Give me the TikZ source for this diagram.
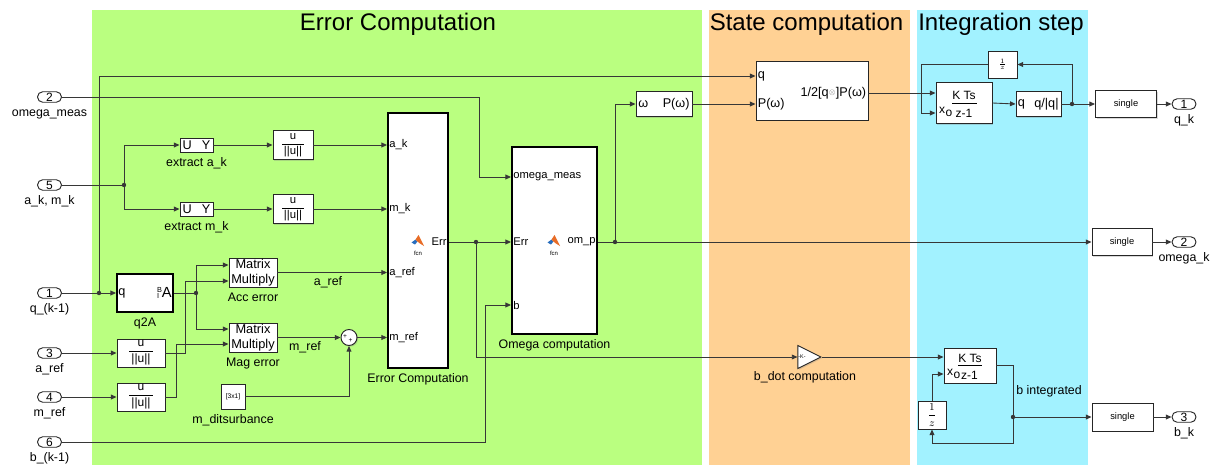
\documentclass[tikz,border=0pt]{standalone}
\usepackage{fontspec}
\setmainfont{Liberation Sans}
\usetikzlibrary{arrows.meta,shadows,shapes.geometric,calc}

\definecolor{zoneerr}{RGB}{186,255,128}
\definecolor{zonestate}{RGB}{255,209,148}
\definecolor{zoneint}{RGB}{162,242,255}
\definecolor{sig}{RGB}{55,55,55}
\definecolor{logoblue}{RGB}{40,110,190}
\definecolor{logoorange}{RGB}{232,108,38}

\newcommand{\unitvec}{$\displaystyle\frac{\mbox{u}}{\mbox{\,||u||\,}}$}

\tikzset{
  sigline/.style={draw=sig, line width=0.65pt},
  sigarrow/.style={sigline, -{Triangle[length=4.2pt,width=3.6pt]}},
  blk/.style 2 args={draw=black!85, fill=white, line width=0.7pt,
     minimum width=#1*0.75pt, minimum height=#2*0.75pt, inner sep=0pt,
     drop shadow={shadow xshift=0.9pt, shadow yshift=-0.9pt, opacity=0.3}},
  subsys/.style 2 args={blk={#1}{#2}, line width=1.4pt, draw=black},
  port/.style={draw=black!85, fill=white, line width=0.7pt, rounded corners=3.9pt,
     minimum width=24*0.75pt, minimum height=10.5*0.75pt, inner sep=0pt,
     font=\fontsize{9}{9}\selectfont},
  lbl/.style={font=\fontsize{9.3}{11}\selectfont, inner sep=0pt, text height=7pt, text depth=2pt},
  under/.style={label={[lbl, label distance=3pt]below:{#1}}},
  pin/.style={font=\fontsize{8.4}{10}\selectfont, inner sep=0pt},
  junc/.style={circle, fill=sig, inner sep=0pt, minimum size=3.3pt},
  zonetitle/.style={font=\fontsize{18}{20}\selectfont, inner sep=0pt},
  fcnlogo/.pic={
    \fill[logoblue] (-6.5,1.5) -- (-2.5,-1.5) -- (-0.5,0.5) -- (-3,3.5) -- cycle;
    \fill[logoorange] (-2.5,-1.5) -- (0.5,-6) -- (6,5) -- (2,2.5) -- (-0.5,0.5) -- cycle;
    \node[font=\fontsize{4.5}{5}\selectfont, inner sep=0pt] (-fcn) at (0,12) {fcn};
  },
}

\begin{document}
\begin{tikzpicture}[x=0.75pt,y=-0.75pt]
\useasboundingbox (0,0) rectangle (1217,465);

% ---------- coloured areas ----------
\fill[zoneerr]   (92,10)  rectangle (702,465);
\fill[zonestate] (709,10) rectangle (910,465);
\fill[zoneint]   (917,10) rectangle (1088,465);
\node[zonetitle] (t-err)   at (398,24.5)  {Error Computation};
\node[zonetitle] (t-state) at (806.5,24.5) {State computation};
\node[zonetitle] (t-int)   at (1001,24.5) {Integration step};

% ---------- inports ----------
\node[port, under={omega\_meas}] (in2) at (49.5,97)  {2};
\node[port, under={a\_k, m\_k}]  (in5) at (49.5,185) {5};
\node[port, under={q\_(k-1)}]    (in1) at (49.5,293) {1};
\node[port, under={a\_ref}]      (in3) at (49.5,353) {3};
\node[port, under={m\_ref}]      (in4) at (49.5,397) {4};
\node[port, under={b\_(k-1)}]    (in6) at (49.5,442) {6};

% ---------- outports ----------
\node[port, under={q\_k}]     (out1) at (1184,104) {1};
\node[port, under={omega\_k}] (out2) at (1184,242) {2};
\node[port, under={b\_k}]     (out3) at (1184,417) {3};

% ---------- measurement extraction and normalisation ----------
\node[blk={33}{14}, under={extract a\_k}, font=\fontsize{9.5}{10}\selectfont] (exa) at (196.5,145) {U\hspace{7.5pt}Y};
\node[blk={33}{14}, under={extract m\_k}, font=\fontsize{9.5}{10}\selectfont] (exm) at (196.5,209) {U\hspace{7.5pt}Y};
\node[blk={40}{29}, font=\fontsize{8.5}{9}\selectfont] (nka) at (293,145) {\unitvec};
\node[blk={40}{29}, font=\fontsize{8.5}{9}\selectfont] (nkm) at (293,209) {\unitvec};
\node[blk={48}{28}, font=\fontsize{9}{10}\selectfont] (nra) at (141,353) {\unitvec};
\node[blk={48}{28}, font=\fontsize{9}{10}\selectfont] (nrm) at (141,397) {\unitvec};

% ---------- quaternion to DCM ----------
\node[subsys={56}{38}, under={q2A}] (q2a) at (145,293) {};
\node[pin, anchor=west, font=\fontsize{9.5}{10}\selectfont] (q2a-in) at ([xshift=1.5pt]q2a.west) {q};
\node[anchor=east, inner sep=0pt] (q2a-out) at ([xshift=-1.5pt]q2a.east)
  {{\fontsize{5.5}{6}\selectfont\rlap{\raisebox{4.2pt}{B}}\raisebox{-1pt}{I}}\hspace{2pt}{\fontsize{11}{12}\selectfont A}};

% ---------- reference vectors ----------
\node[blk={48}{29}, under={Acc error}, font=\fontsize{9.6}{11}\selectfont, align=center] (acc) at (253,272.5) {Matrix\\Multiply};
\node[blk={48}{29}, under={Mag error}, font=\fontsize{9.6}{11}\selectfont, align=center] (mag) at (253,337.5) {Matrix\\Multiply};
\node[circle, draw=black!85, fill=white, line width=0.7pt, minimum size=16*0.75pt, inner sep=0pt,
      drop shadow={shadow xshift=0.9pt, shadow yshift=-0.9pt, opacity=0.3}] (sum) at (349,337.5) {};
\node[font=\fontsize{5}{5}\selectfont, inner sep=0pt] (sum-p1) at (345,336.5) {+};
\node[font=\fontsize{5}{5}\selectfont, inner sep=0pt] (sum-p2) at (350.5,340.5) {+};
\node[blk={24}{25}, under={m\_ditsurbance}, font=\fontsize{5}{5}\selectfont] (cst) at (233,396.5) {[3x1]};

% ---------- MATLAB function blocks ----------
\node[subsys={60}{255}, under={Error Computation}] (ec) at (418,240.5) {};
\coordinate (ec-ak)   at (ec.west |- 0,145);
\coordinate (ec-mk)   at (ec.west |- 0,209);
\coordinate (ec-aref) at (ec.west |- 0,272.5);
\coordinate (ec-mref) at (ec.west |- 0,337.5);
\coordinate (ec-err)  at (ec.east |- 0,242);
\node[pin, anchor=west] (ec-t1) at ([xshift=1.5pt]ec-ak)   {a\_k};
\node[pin, anchor=west] (ec-t2) at ([xshift=1.5pt]ec-mk)   {m\_k};
\node[pin, anchor=west] (ec-t3) at ([xshift=1.5pt]ec-aref) {a\_ref};
\node[pin, anchor=west] (ec-t4) at ([xshift=1.5pt]ec-mref) {m\_ref};
\node[pin, anchor=east] (ec-t5) at ([xshift=-1.5pt]ec-err) {Err};
\pic (ec-logo) at (418,241) {fcnlogo};

\node[subsys={85}{187}, under={Omega computation}] (om) at (554.5,240.5) {};
\coordinate (om-meas) at (om.west |- 0,177);
\coordinate (om-err)  at (om.west |- 0,242);
\coordinate (om-b)    at (om.west |- 0,305);
\coordinate (om-out)  at (om.east |- 0,242);
\node[pin, anchor=west] (om-t1) at ([xshift=1.5pt]om-meas) {omega\_meas};
\node[pin, anchor=west] (om-t2) at ([xshift=1.5pt]om-err)  {Err};
\node[pin, anchor=west] (om-t3) at ([xshift=1.5pt]om-b)    {b};
\node[pin, anchor=east] (om-t4) at ([xshift=-1.5pt]om-out) {om\_p};
\pic (om-logo) at (554,241) {fcnlogo};

% ---------- state computation ----------
\node[blk={56}{25}] (pw) at (664,104) {};
\node[pin, anchor=west, font=\fontsize{9.5}{10}\selectfont] (pw-in)  at ([xshift=2pt]pw.west)  {ω};
\node[pin, anchor=east, font=\fontsize{9.5}{10}\selectfont] (pw-out) at ([xshift=-2pt]pw.east) {P(ω)};

\node[blk={112}{59}] (qp) at (812,90.5) {};
\coordinate (qp-q)   at (qp.west |- 0,76);
\coordinate (qp-p)   at (qp.west |- 0,104);
\coordinate (qp-out) at (qp.east |- 0,93);
\node[pin, anchor=west, font=\fontsize{9.5}{10}\selectfont] (qp-t1) at ([xshift=1.5pt]qp-q) {q};
\node[pin, anchor=west, font=\fontsize{9.5}{10}\selectfont] (qp-t2) at ([xshift=1.5pt]qp-p) {P(ω)};
\node[pin, anchor=east, font=\fontsize{9.5}{10}\selectfont] (qp-t3) at ([xshift=-1.5pt]qp-out)
  {1/2[q{\color{gray}\raisebox{1.5pt}{\fontsize{5}{5}\selectfont$\otimes$}}]P(ω)};

\node[isosceles triangle, isosceles triangle stretches, shape border rotate=0, draw=black!85, fill=white,
      line width=0.7pt, minimum width=23*0.75pt, minimum height=23*0.75pt, inner sep=0pt,
      drop shadow={shadow xshift=0.9pt, shadow yshift=-0.9pt, opacity=0.3},
      label={[lbl, label distance=4pt]below:b\_dot computation}] (gain) at (805,357) {};
\node[font=\fontsize{4}{4}\selectfont, inner sep=0pt] (gain-k) at (802,357) {-K-};

% ---------- integration step ----------
\node[blk={56}{41}] (intq) at (964,103) {};
\coordinate (intq-1) at (intq.west |- 0,93);
\coordinate (intq-2) at (intq.west |- 0,113);
\node[inner sep=0pt, font=\fontsize{9}{10}\selectfont] (intq-num) at (964,95.5) {K Ts};
\draw[line width=0.6pt] (952,103) -- (977,103);
\node[inner sep=0pt, font=\fontsize{9}{10}\selectfont] (intq-den) at (964,113.5) {z-1};
\node[inner sep=0pt, font=\fontsize{9}{10}\selectfont] (intq-x) at (942,110) {x};
\node[inner sep=0pt, font=\fontsize{9}{10}\selectfont] (intq-o) at (949,113) {o};

\node[blk={45}{25}] (nq) at (1038.5,104) {};
\node[pin, anchor=west, font=\fontsize{9.5}{10}\selectfont] (nq-in)  at ([xshift=1.5pt]nq.west)  {q};
\node[pin, anchor=east, font=\fontsize{9.5}{10}\selectfont] (nq-out) at ([xshift=-2pt]nq.east) {q/|q|};

\node[blk={29}{27}, font=\fontsize{4.5}{5}\selectfont] (dq) at (1002.5,64.5) {$\frac{1}{z}$};

\node[blk={52}{35}] (intb) at (970,365.5) {};
\coordinate (intb-1) at (intb.west |- 0,357);
\coordinate (intb-2) at (intb.west |- 0,374);
\node[inner sep=0pt, font=\fontsize{9}{10}\selectfont] (intb-num) at (970,358) {K Ts};
\draw[line width=0.6pt] (958,365) -- (982,365);
\node[inner sep=0pt, font=\fontsize{9}{10}\selectfont] (intb-den) at (969.5,375.5) {z-1};
\node[inner sep=0pt, font=\fontsize{9}{10}\selectfont] (intb-x) at (950,372) {x};
\node[inner sep=0pt, font=\fontsize{9}{10}\selectfont] (intb-o) at (957,375) {o};

\node[blk={28}{28}, font=\fontsize{7.8}{9}\selectfont] (db) at (932,415) {$\displaystyle\frac{1}{z}$};

\node[blk={61}{27}, font=\fontsize{7}{8}\selectfont] (sq) at (1126,104)   {single};
\node[blk={60}{27}, font=\fontsize{7}{8}\selectfont] (so) at (1122,242)   {single};
\node[blk={61}{28}, font=\fontsize{7}{8}\selectfont] (sb) at (1122.5,417) {single};

% ---------- junctions ----------
\node[junc] (j5) at (124,185) {};
\node[junc] (j1) at (99,293) {};
\node[junc] (j2) at (196,293) {};
\node[junc] (je) at (476,242) {};
\node[junc] (jo) at (615,242) {};
\node[junc] (jq) at (1072,104) {};
\node[junc] (jb) at (1013,417) {};

% ---------- signal lines ----------
\draw[sigarrow] (in2.east) -- (479,97) |- (om-meas);
\draw[sigline]  (in5.east) -- (j5);
\draw[sigarrow] (j5) |- (exa.west);
\draw[sigarrow] (j5) |- (exm.west);
\draw[sigarrow] (exa.east) -- (nka.west);
\draw[sigarrow] (exm.east) -- (nkm.west);
\draw[sigarrow] (nka.east) -- (ec-ak);
\draw[sigarrow] (nkm.east) -- (ec-mk);

\draw[sigline]  (in1.east) -- (j1);
\draw[sigarrow] (j1) -- (q2a.west);
\draw[sigarrow] (j1) |- (qp-q);
\draw[sigline]  (q2a.east) -- (j2);
\draw[sigarrow] (j2) |- (acc.west |- 0,265);
\draw[sigarrow] (j2) |- (mag.west |- 0,329);
\draw[sigarrow] (in3.east) -- (nra.west);
\draw[sigarrow] (in4.east) -- (nrm.west);
\draw[sigarrow] (nra.east) -- (185,353) |- (acc.west |- 0,281);
\draw[sigarrow] (nrm.east) -- (176,397) |- (mag.west |- 0,344);

\draw[sigarrow] (acc.east) -- (ec-aref);
\draw[sigarrow] (mag.east) -- (sum.west);
\draw[sigarrow] (cst.east) -| (sum.south);
\draw[sigarrow] (sum.east) -- (ec-mref);
\node[lbl] (lab-aref) at (328,282) {a\_ref};
\node[lbl] (lab-mref) at (305,347) {m\_ref};

\draw[sigline]  (ec-err) -- (je);
\draw[sigarrow] (je) -- (om-err);
\draw[sigarrow] (je) |- (gain.west);
\draw[sigarrow] (in6.east) -- (485,442) |- (om-b);

\draw[sigline]  (om-out) -- (jo);
\draw[sigarrow] (jo) -- (so.west);
\draw[sigarrow] (jo) |- (pw.west);
\draw[sigarrow] (pw.east) -- (qp-p);
\draw[sigarrow] (qp-out) -- (intq-1);

\draw[sigarrow] (intq.east) -- (nq.west);
\draw[sigline]  (nq.east) -- (jq);
\draw[sigarrow] (jq) -- (sq.west);
\draw[sigarrow] (jq) |- (dq.east);
\draw[sigarrow] (dq.west) -- (921,64.5) |- (intq-2);
\draw[sigarrow] (sq.east) -- (out1.west);
\draw[sigarrow] (so.east) -- (out2.west);

\draw[sigarrow] (gain.apex) -- (intb-1);
\draw[sigline]  (intb.east) -| (jb);
\draw[sigarrow] (jb) -- (sb.west);
\draw[sigarrow] (jb) -- (1013,443) -| (db.south);
\draw[sigarrow] (db.north) |- (intb-2);
\draw[sigarrow] (sb.east) -- (out3.west);
\node[lbl, anchor=west] (lab-bint) at (1016,391) {b integrated};
\end{tikzpicture}
\end{document}
